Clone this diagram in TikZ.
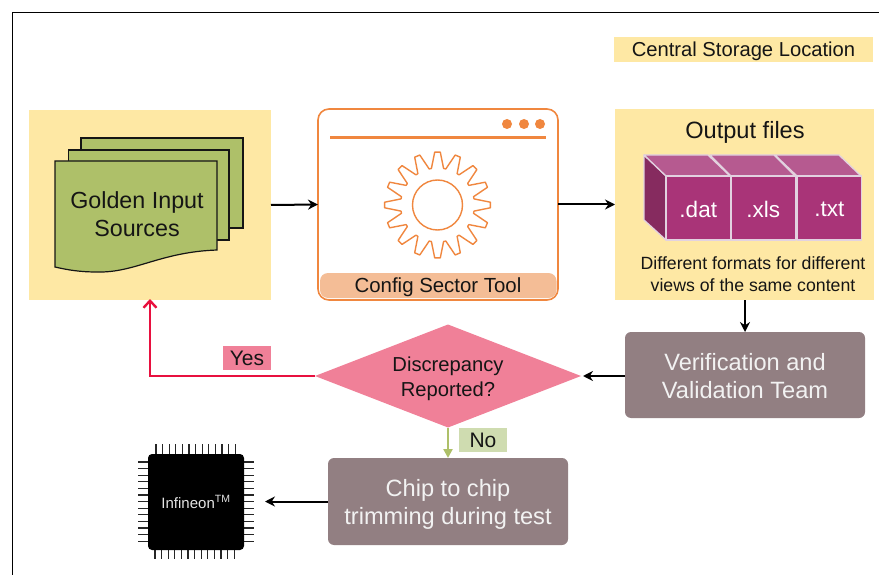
\documentclass[tikz,border=0pt]{standalone}
\usepackage{fontspec}
\setmainfont{Liberation Sans}
\usetikzlibrary{shapes.geometric,arrows.meta}

\definecolor{panelyellow}{HTML}{FEE8A4}
\definecolor{docgreen}{HTML}{AEC069}
\definecolor{toolorange}{HTML}{F0873F}
\definecolor{barorange}{HTML}{F4BD96}
\definecolor{cubefront}{HTML}{A93478}
\definecolor{cubetop}{HTML}{B65A90}
\definecolor{cubeside}{HTML}{862B5F}
\definecolor{cubeedge}{HTML}{E2D2E0}
\definecolor{teamgrey}{HTML}{927F82}
\definecolor{decisionpink}{HTML}{F08098}
\definecolor{yesred}{HTML}{E8103F}
\definecolor{nogreen}{HTML}{CFDCB0}
\definecolor{inkblack}{HTML}{151515}

% two lines of text, dropped a little without changing the node size
\newcommand{\droplines}[3]{\raisebox{-#1}[\height][\depth]{\begin{tabular}{@{}c@{}}#2\\#3\end{tabular}}}

\begin{document}
\begin{tikzpicture}[x=1pt,y=-1pt,inner sep=0pt,outer sep=0pt,text=inkblack]
    \tikzstyle{panel}=[rectangle,fill=panelyellow]
    \tikzstyle{team}=[rectangle,rounded corners=6pt,fill=teamgrey,text=white!95!black,
        minimum width=240pt,font=\fontsize{23.6}{28}\selectfont]
    \tikzstyle{tag}=[rectangle,minimum width=48pt,minimum height=24pt,font=\fontsize{21}{23}\selectfont]
    \tikzstyle{sheet}=[draw=inkblack,line width=1.2pt,fill=docgreen]
    \tikzstyle{flow}=[line width=2pt,draw=black,-{Stealth[length=10pt,width=10pt]}]
    \tikzstyle{cube face}=[draw=cubeedge,line width=1.3pt,line join=round]
    \tikzstyle{cube label}=[text=white,font=\fontsize{22.5}{25}\selectfont]
    \tikzstyle{pin line}=[draw=black!85,line width=1.3pt]

    \useasboundingbox (0,0) rectangle (879,575);

    % Outer frame, open at the right and at the bottom
    \draw[black,line width=1.8pt] (12.5,575) -- (12.5,12.5) -- (879,12.5);

    % Storage key and the yellow panels
    \node[panel,minimum width=259pt,minimum height=25pt,font=\fontsize{20.2}{24}\selectfont] (key) at (743.5,49.5) {\raisebox{-2pt}[\height][\depth]{Central Storage Location}};
    \node[panel,minimum width=242pt,minimum height=190pt] (golden) at (150,205) {};
    \node[panel,minimum width=259pt,minimum height=191pt] (output) at (744.5,204.5) {};

    % Golden input sheets
    \draw[sheet] (81,138) rectangle (243,228);
    \draw[sheet] (68.5,150) rectangle (229,240);
    \draw[sheet] (55,161) -- (217,161) -- (217,250)
        .. controls (160,252) and (135,273) .. (97,272)
        .. controls (80,272) and (68,270) .. (55,267) -- cycle;
    \node[align=center,font=\fontsize{23.3}{28.5}\selectfont] (sources) at (137,214) {Golden Input\\Sources};

    % Config tool window
    \node[rectangle,draw=toolorange,line width=1.6pt,fill=white,rounded corners=11pt,
        minimum width=240pt,minimum height=191pt] (tool) at (438,204.5) {};
    \fill[barorange,rounded corners=8pt] (320,273) rectangle (556.5,298);
    \node[font=\fontsize{20.4}{23}\selectfont] (toolname) at (438,287.5) {Config Sector Tool};
    \draw[toolorange,line width=2.4pt] (330,137.5) -- (546,137.5);
    \foreach \x in {507,524,540}
        \fill[toolorange] (\x,124) circle (5pt);

    % Gear wheel
    \begin{scope}[shift={(437.5,205)}]
        \draw[toolorange,line width=1.4pt,line join=round] (-9.5:37)
            \foreach \a in {0,22.5,...,337.5} {
                -- ({\a-9.5}:37) -- ({\a-3}:53) -- ({\a+3}:53) -- ({\a+9.5}:37)
            } -- cycle;
        \draw[toolorange,line width=1.4pt] (0,0) circle (25pt);
    \end{scope}

    % Output file cubes
    \draw[cube face,fill=cubeside] (644,155) -- (666,176) -- (666,240) -- (644,220) -- cycle;
    \foreach \xa/\xb in {644/666,710/731,775/797}
        \draw[cube face,fill=cubetop] (\xa,155) -- (\xb,176) -- ({\xb+64},176) -- ({\xa+64},155) -- cycle;
    \foreach \xa/\ext in {666/.dat,731/.xls,797/.txt}
        \node[cube face,fill=cubefront,minimum width=64.5pt,minimum height=64pt,anchor=north west,cube label] (F-\ext) at (\xa,176) {\raisebox{-1pt}[\height][\depth]{\ext}};
    \node[panel,fill=none] (outname) at (745,132) {\fontsize{23.6}{28}\selectfont Output files};
    \node[align=center,font=\fontsize{17.7}{22}\selectfont] (formats) at (753,274) {Different formats for different\\views of the same content};

    % Decision and the two team boxes
    \node[diamond,fill=decisionpink,aspect=2.58,minimum width=266pt,minimum height=103pt,
        font=\fontsize{20.2}{24.5}\selectfont] (check) at (448,376) {\droplines{3pt}{Discrepancy}{Reported?}};
    \node[team,minimum height=86pt] (verify) at (745,375) {\droplines{3.5pt}{Verification and}{Validation Team}};
    \node[team,minimum height=87pt] (trim) at (448,501.5) {\droplines{3.5pt}{Chip to chip}{trimming during test}};
    \node[tag,fill=decisionpink] (yes) at (247,358) {Yes};
    \node[tag,fill=nogreen] (no) at (483,440) {No};

    % Draw the chip
    \foreach \i in {0,...,12} {
        \draw[pin line] (138,{462+6.6*\i}) -- (148,{462+6.6*\i});
        \draw[pin line] (244,{462+6.6*\i}) -- (254,{462+6.6*\i});
        \draw[pin line] ({156+6.6*\i},444) -- ({156+6.6*\i},454);
        \draw[pin line] ({155+6.6*\i},550) -- ({155+6.6*\i},559);
    }
    \node[rectangle,fill=black,rounded corners=4pt,minimum size=96pt,text=white!90!black,
        font=\fontsize{15}{17}\selectfont] (chip) at (196,502) {Infineon\textsuperscript{TM}};

    % Connect the steps
    \draw[flow] (golden.east) -- (tool.west);
    \draw[flow] (tool.east) -- (output.west);
    \draw[flow] (output.south -| verify.north) -- (verify.north);
    \draw[flow] (verify.west |- check.east) -- ([xshift=2pt]check.east);
    \draw[flow,shorten >=21pt] (trim.west) -- (chip.east |- trim.west);
    \draw[line width=2.4pt,draw=yesred,-{Straight Barb[length=7pt,width=13pt]}] (check.west) -| ([yshift=1pt]golden.south);
    \draw[line width=2.4pt,draw=docgreen,-{Triangle[length=9pt,width=9pt]}] (check.south) -- (trim.north);
\end{tikzpicture}
\end{document}
